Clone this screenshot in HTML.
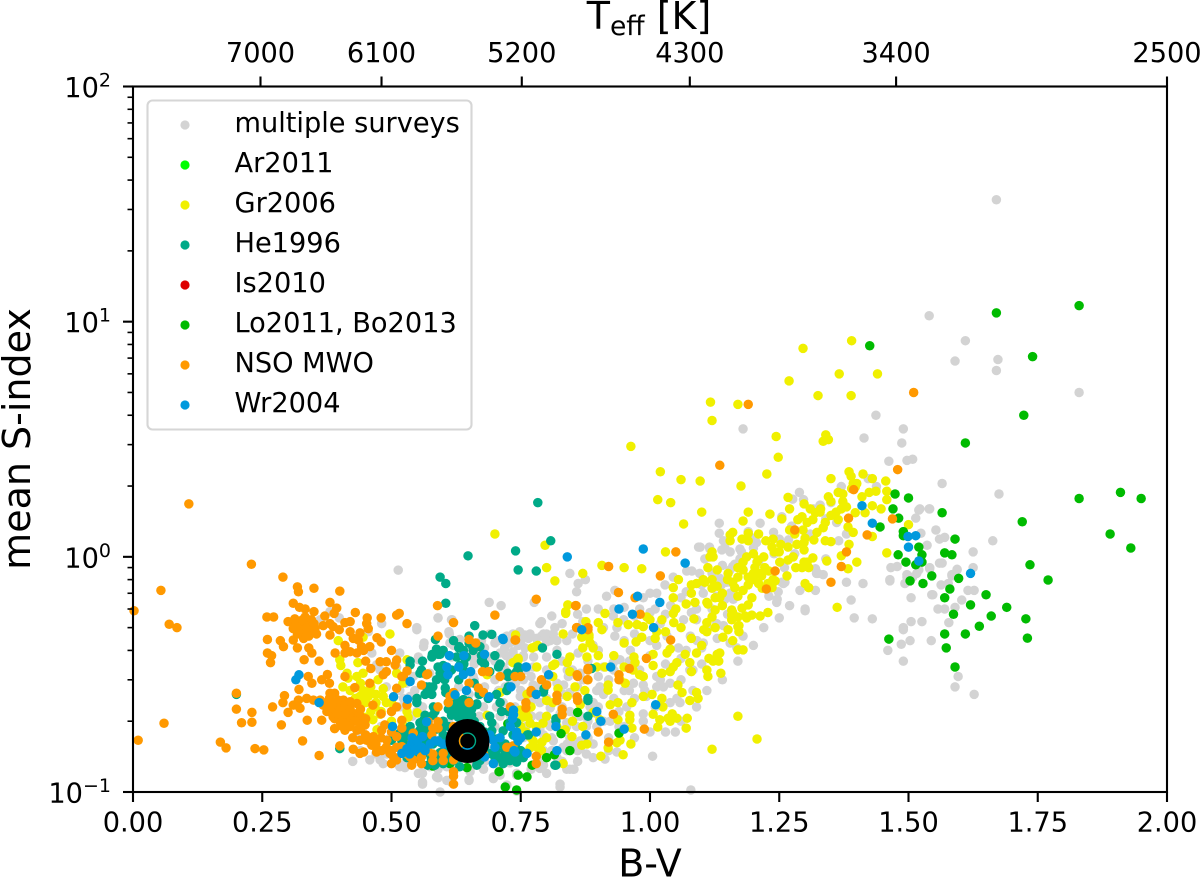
<!DOCTYPE html>
<html lang="en">
<head>
<meta charset="utf-8">
<title>Mean S-index versus B-V</title>
<style>
html,body{margin:0;padding:0;background:#fff;width:1200px;height:878px;overflow:hidden}
svg{display:block}
text{font-family:"DejaVu Sans","Liberation Sans",sans-serif;fill:#000}
.tick{font-size:27.2px}
.title{font-size:38px}
</style>
</head>
<body>
<svg id="chart" xmlns="http://www.w3.org/2000/svg" width="1200" height="878" viewBox="0 0 1200 878">
  <g id="series"></g>
  <g id="sun"></g>
  <g id="axes"></g>
  <g>
    <rect x="147.5" y="100.5" width="324" height="329" rx="5" fill="#fff" fill-opacity="0.8" stroke="#d6d6d6" stroke-width="2.1"/>
    <g><circle cx="185" cy="125" r="4.6" fill="#d3d3d3"/><text class="tick" x="234.5" y="132">multiple surveys</text></g>
    <g><circle cx="185" cy="165" r="4.6" fill="#00ff00"/><text class="tick" x="234.5" y="172">Ar2011</text></g>
    <g><circle cx="185" cy="205" r="4.6" fill="#f0f000"/><text class="tick" x="234.5" y="212">Gr2006</text></g>
    <g><circle cx="185" cy="245" r="4.6" fill="#00aa88"/><text class="tick" x="234.5" y="252">He1996</text></g>
    <g><circle cx="185" cy="285" r="4.6" fill="#dd0000"/><text class="tick" x="234.5" y="292">Is2010</text></g>
    <g><circle cx="185" cy="325" r="4.6" fill="#00bb00"/><text class="tick" x="234.5" y="332">Lo2011, Bo2013</text></g>
    <g><circle cx="185" cy="365" r="4.6" fill="#ff9900"/><text class="tick" x="234.5" y="372">NSO MWO</text></g>
    <g><circle cx="185" cy="405" r="4.6" fill="#0099dd"/><text class="tick" x="234.5" y="412">Wr2004</text></g>
  </g>
  <text class="title" x="650" y="876.5" text-anchor="middle">B-V</text>
  <text class="title" x="30" y="439" text-anchor="middle" transform="rotate(-90 30 439)">mean S-index</text>
  <text class="title" x="649" y="29" text-anchor="middle">T<tspan dy="6" font-size="26.6">eff</tspan><tspan dy="-6"> [K]</tspan></text>
</svg>
<script>
const xTickValues = [0, 0.25, 0.5, 0.75, 1, 1.25, 1.5, 1.75, 2];
const xTickLabels = ["0.00", "0.25", "0.50", "0.75", "1.00", "1.25", "1.50", "1.75", "2.00"];
const topTickValues = [0.2466, 0.4807, 0.752, 1.077, 1.476, 2];
const topTickLabels = ["7000", "6100", "5200", "4300", "3400", "2500"];
const yTickExponents = [-1, 0, 1, 2];
const yTickLabels = ["\u22121", "0", "1", "2"];
const sunPoint = [0.647, 0.1647];

const grayPoints = [
[1.67,33],[1.54,10.6],[1.61,8.3],[1.59,6.8],[1.673,6.9],[1.67,6.2],[1.83,5],[1.437,4],[1.18,3.5],[1.49,3.5],[1.414,3.2],[1.487,3.05],[1.462,2.55],[1.497,2.57],[1.508,2.6],[1.565,2.05],[1.675,1.85],[1.663,1.17],[1.625,1.05],[1.625,.9],[1.553,1.3],[1.54,1.6],[1.52,1.58],[1.514,1.46],[1.524,1.26],[1.56,1.19],[1.57,1.21],[1.536,1.12],[1.56,.94],[1.565,.94],[1.594,.88],[1.584,.84],[1.577,.77],[1.563,.76],[1.615,.72],[1.627,.72],[1.547,.69],[1.603,.655],[1.59,.61],[1.557,.6],[1.57,.6],[1.505,.67],[1.389,.655],[1.395,.55],[1.43,.545],[1.505,.53],[1.526,.53],[1.578,.525],[1.49,.5],[1.38,.78],[1.412,.77],[1.464,.79],[1.466,.9],[1.478,.91],[1.497,.84],[1.493,.77],[1.516,.85],[1.541,.9],
[1.464,.8],[1.545,.69],[1.49,.49],[1.486,.425],[1.503,.44],[1.544,.44],[1.46,.4],[1.49,.36],[1.596,.31],[1.59,.28],[1.627,.26],[1.522,1.6],[1.541,1.6],[1.497,.82],[1.508,.82],[1.52,.88],[1.541,.89],[1.584,.83],[1.594,.885],
[1.37,1.99],[1.438,1.99],[1.422,2.15],[1.289,1.88],[1.276,1.76],[1.297,1.75],[1.316,1.6],[1.329,1.66],[1.361,1.4],[1.38,1.25],[1.134,1.39],[1.134,1.26],[1.213,1.39],[1.255,1.48],[1.274,1.35],[1.239,1.27],[1.142,1.17],[1.145,1.09],[1.177,1.05],[1.2,1.09],[1.25,1.19],[1.268,1.18],[1.32,.89],[1.335,.84],[1.325,.85],[1.365,1.17],[1.34,.98],[1.16,.91],[1.135,.81],[1.138,.76],[1.155,.7],[1.148,.78],[1.161,.66],[1.145,.66],[1.246,.66],[1.255,.78],[1.261,.78],[1.3,.59],[1.103,.7],[1.106,.98],[1.097,1.1],[1.116,1.08],[1.129,.52],[1.142,.51],[1.3,.6],
[1.094,1.1],[1.115,1.1],[1.139,1.07],[1.164,.93],[1.155,.88],[1.174,.98],[1.155,.78],[1.142,.66],[1.155,.7],[1.129,.68],[1.096,.85],[1.071,.87],[1.081,.87],[1.045,.82],[1.029,.76],[1.013,.7],[1,.7],[.987,.67],[.916,.68],[.932,.72],[.929,.56],[.877,.6],[.858,.71],[.816,.5],[.794,.47],[.787,.52],[.768,.47],[.748,.48],[.735,.47],[.807,.44],[.839,.44],[.82,.4],[.861,.39],[.936,.5],[.949,.54],[.932,.46],[.962,.4],[1,.44],[1.013,.42],[1.033,.46],[1.065,.54],[1.078,.46],[1.091,.44],[1.103,.43],[1.155,.43],[1.18,.46],[1.168,.41],[1.055,.41],[1.013,.31],[1.083,.33],[1.077,.33],[1.013,.28],[1.026,.28],[1.039,.29],[1.083,.27],[1.052,.25],[1.039,.24],[1.058,.24],[.968,.29],[.987,.285],[.903,.28],[.942,.365],[.929,.355],[.897,.27],[.871,.3],[.842,.31],[.832,.26],[.987,.215],[1.049,.18],[.987,.2],[.955,.23],[.923,.2],[.89,.24],[.865,.21],[.845,.22],[.839,.19],[.858,.19],[.826,.215],[.807,.19],[.787,.21],[.794,.175],[.813,.165],[.832,.155],[.865,.165],[.877,.145],[.845,.125],[.853,.125],[.787,.126],[.784,.14],[.742,.12],[.774,.16],[.755,.17],[.826,.108],[.936,.148],[.913,.138],[1.005,.142],[1.079,.102],[.993,.255],[.78,.28],[.735,.39],[.755,.38],[.774,.34],[.722,.38],[.716,.34],[.865,.32],[1.206,1.15],[1.258,.77],[1.248,.71],[1.245,.64],[1.322,.85],[1.2,1.2],[1.174,1.08],[1.155,1.05],
[.689,.64],[.712,.62],[.59,.55],[.617,.54],[.611,.48],[.549,.5],[.563,.43],[.552,.375],[.516,.39],[.845,.85],[.861,.77],[.875,.8],[.79,.53],[.776,.64],[.749,.47],[.758,.465],[.765,.45],[.8,.47],[.813,.47],[.79,.46],[.82,.44],[.8,.435],[.69,.47],[.674,.44],[.723,.46],[.707,.44],[.729,.43],[.719,.41],[.735,.395],[.71,.39],[.758,.41],[.745,.42],[.755,.375],[.775,.375],[.8,.375],[.69,.375],[.665,.375],[.7,.43],[.652,.375],[.613,.43],[.626,.44],[.616,.375],[.574,.32],[.542,.31],[.529,.29],[.545,.27],[.523,.25],[.516,.27],[.658,.31],[.68,.28],[.707,.27],[.755,.3],[.774,.285],[.749,.255],[.771,.245],[.787,.24],[.807,.228],[.833,.285],[.845,.265],[.668,.26],[.678,.23],[.703,.23],[.716,.24],[.739,.23],[.749,.22],[.71,.21],[.771,.21],[.787,.21],[.8,.197],[.839,.197],[.858,.21],[.877,.19],[.897,.19],[.865,.24],[.884,.23],[.897,.215],[.787,.185],[.81,.17],[.845,.17],[.851,.16],[.81,.15],[.865,.153],[.89,.14],[.839,.15],[.794,.15],[.526,.127],[.552,.12],[.59,.115],[.56,.108],[.65,.112],[.697,.114],[.826,.105],[.839,.125],[.851,.125],[.794,.13],[.516,.13],[.529,.135],[.574,.128],[.59,.133],[.607,.128],[.626,.128],[.652,.122],[.678,.125],[.729,.133],[.742,.118],[.71,.118],
[.425,.135],[.478,.137],[.484,.132],[.516,.128],[.526,.129],[.51,.133],[.433,.172],[.445,.178],[.458,.137],[.481,.52],[.381,.585],[.399,.55],[.362,.54],[.455,.48],[.462,.39],[.471,.347],[.478,.33],[.49,.28],[.51,.34],[.549,.49],[.562,.415],[.552,.365],[.612,.47],[.632,.445],[.623,.44],[.59,.55],[.616,.54],[.536,.255],[.549,.22],[.516,.23],[.497,.17],[.491,.145],[.56,.11],[.587,.116],[.594,.1],[.616,.11],[.607,.112],[.65,.113],[.697,.116],[.723,.107],[.742,.101],[.513,.878],
[.66,.35],[.68,.41],[.63,.3],[.6,.33],[.75,.27],[.73,.3],[.8,.33],[.83,.36],[.85,.33],[.88,.36],[.9,.4],[.91,.34],[.96,.36],[.98,.33],[1,.38],[1.03,.35],[1.06,.3],[.92,.3],[.95,.27],[.97,.25],[1.01,.23],[.93,.25],[.9,.23],[.92,.17],[.95,.19],[.88,.17],[.76,.19],[.77,.17],[.72,.16],[.69,.16],[.66,.13],[.6,.15],[.56,.13],[.54,.14],[.85,.47],[.88,.47],[.91,.5],[.87,.53],[.95,.61],[.98,.6],[1.01,.6],[1.04,.62],[1.07,.71],[1.1,.76],[1.12,.85],[1.14,.92],[1.18,.88],[1.21,.95],[1.24,1.03],[1.19,1.28],[1.28,1.03],[1.31,1.25],[1.34,1.45],[1.35,1.7],[1.09,.6],[1.12,.6],[1.15,.57],[1.06,.67],[1.09,.54],[.95,.44],[.89,.42],[.97,.47],[.8,.25],[.83,.23],[1.1,.35],[1.06,.37],[1.02,.52],[.84,.16],[.86,.135],[.82,.14],[.72,.28],[.76,.33],
[.62,.42],[.64,.4],[.67,.41],[.7,.36],[.72,.33],[.68,.33],[.66,.3],[.63,.28],[.65,.26],[.7,.3],[.74,.29],[.76,.26],[.79,.27],[.82,.29],[.84,.33],[.86,.28],[.88,.25],[.9,.31],[.93,.33],[.91,.26],[.94,.22],[.96,.27],[.99,.27],[1.02,.3],[1.04,.33],[1.07,.4],[1.1,.41],[1.13,.45],[1.11,.5],[1.08,.58],[1.03,.57],[1,.58],[.97,.56],[.93,.6],[.9,.6],[.86,.57],[.83,.52],[.81,.56],[.78,.45],[.75,.43],[.73,.36],[.77,.31],[.8,.29],[.76,.23],[.73,.21],[.7,.19],[.67,.21],[.64,.19],[.61,.2],[.58,.21],[.56,.23],[.54,.21],[.52,.2],[.5,.22],[.48,.19],[.46,.16],[.44,.15],[.47,.145],[.5,.15],[.53,.14],[.56,.12],[.59,.125],[.62,.13],[.65,.128],[.68,.135],[.71,.13],[.74,.135],[.77,.125],[.8,.12],[.83,.135],[.86,.15],[.89,.16],[.92,.15],[.88,.2],[.91,.2],[.94,.19],[.97,.17],[1,.18],[1.03,.18],[1.06,.2],[1.09,.23],[1.11,.27],[1.14,.3],[1.17,.36],[1.2,.42],[1.22,.5],[1.25,.55],[1.27,.62],[1.23,.68],[1.26,.9],[1.29,.72],[1.32,.72]
];

const yellowPoints = [
[1.39,8.3],[1.296,7.7],[1.269,5.6],[1.366,6],[1.44,6],[1.325,4.85],[1.389,4.85],[1.17,4.45],[1.117,4.55],[1.12,3.8],[1.244,3.25],[1.34,3.3],[1.345,3.15],[1.335,3.1],[1.248,2.65],[1.226,2.25],[1.176,2],[1.097,2.1],[1.1,1.55],[.963,2.95],[1.02,2.3],[.70,1.25],[1.015,1.75],[1.06,2.13],[1.04,1.7],[1.065,1.38],
[1.35,2.15],[1.385,2.3],[1.389,2.2],[1.393,2.05],[1.397,1.98],[1.412,2.25],[1.43,2.15],[1.456,2.1],[1.4,2.05],[1.39,1.95],[1.364,1.88],[1.373,1.85],[1.345,1.8],[1.35,1.72],[1.373,1.72],[1.38,1.63],[1.37,1.6],[1.41,1.8],[1.424,1.88],[1.437,1.9],[1.458,1.9],[1.458,1.75],[1.43,1.65],[1.447,1.6],[1.416,1.54],[1.397,1.54],[1.364,1.44],[1.383,1.34],[1.393,1.27],[1.43,1.22],[1.5,1.37],[1.458,1.04],[1.385,1.13],[1.37,1.01],[1.383,.89],[1.4,.95],[1.342,.96],[1.362,.61],
[1.267,1.79],[1.298,1.68],[1.27,1.6],[1.232,1.52],[1.255,1.45],[1.19,1.55],[1.18,1.42],[1.329,1.55],[1.32,1.54],[1.315,1.44],[1.294,1.48],[1.286,1.44],[1.304,1.4],[1.296,1.3],[1.323,1.27],[1.339,1.4],[1.335,1.33],[1.317,1.18],[1.339,1.17],[1.35,1.16],[1.16,1.27],[1.155,1.24],[1.155,1.17],[1.19,1.26],[1.21,1.25],[1.178,1.19],[1.19,1.17],[1.224,1.17],[1.238,1.19],[1.253,1.13],[1.267,1.1],[1.284,1.13],[1.298,1.15],[1.298,1.07],[1.236,1.1],[1.24,1.05],[1.315,.99],[1.277,1],[1.267,.97],[1.251,.95],[1.298,.95],[1.282,.9],[1.294,.9],[1.307,.9],[1.304,.95],[1.265,.83],[1.3,.77],[1.307,.74],
[1.187,1],[1.209,.97],[1.18,.88],[1.203,.9],[1.216,.83],[1.19,.82],[1.2,.8],[1.21,.77],[1.228,.77],[1.242,.79],[1.236,.74],[1.217,.735],[1.19,.76],[1.12,1.05],[1.116,1],[1.122,1],[1.112,.9],[1.13,.88],[1.151,.85],[1.17,.82],[1.16,.78],[1.106,.78],[1.12,.8],[1.12,.735],[1.164,.74],[1.197,.67],[1.19,.625],[1.178,.605],[1.126,.67],[1.135,.67],[1.112,.63],[1.126,.594],[1.12,.555],[1.158,.594],[1.158,.565],[1.17,.555],[1.184,.56],[1.197,.565],[1.213,.56],[1.228,.58],[1.172,.51],[1.11,.525],[1.126,.5],[1.151,.49],
[1.207,.95],[1.222,.9],[1.2,.85],[1.238,.8],[1.16,.58],[1.158,.54],[1.187,.55],[1.104,.49],[1.11,.48],[1.141,.455],[1.17,.505],[1.172,.48],[1.17,.402],[1.18,.402],[1.07,.63],[1.087,.64],[1.045,.67],[1.045,.74],[1.055,.8],[1.08,.76],[1.09,.77],[1.103,.8],[1.11,.64],[1.045,.575],[1.085,.545],[1.023,.54],[1.046,.525],[1.013,.48],[1,.54],[.987,.505],[.975,.515],[.958,.515],[.994,.555],[.984,.455],[.973,.435],[.938,.525],[.913,.575],[.9,.525],[.907,.49],[.876,.53],[.832,.47],[.841,.625],[.837,.575],[.868,.455],[.882,.455],[.884,.43],[.89,.41],[.87,.41],[.95,.43],[1.03,1.05],[.907,.92],[.95,.9],[.984,.89],[.87,.85],[.816,.79],[.8,.9],[.797,1.12],
[1.039,.405],[1.068,.385],[1.09,.39],[1.033,.39],[1.006,.385],[.969,.375],[.971,.355],[1.114,.37],[1.13,.385],[1.135,.39],[1.122,.36],[1.133,.36],[1.077,.355],[1.006,.345],[1.052,.355],[1.045,.34],[1.039,.325],[1.023,.32],[1.11,.33],[1.112,.31],[1.137,.32],[1.08,.325],[.987,.31],[.98,.315],[.967,.33],[.95,.34],[.942,.3],[.952,.29],[.919,.285],[.919,.271],[.897,.34],[.913,.34],[.855,.28],[.874,.27],[.84,.355],[.845,.375],[.845,.325],[.812,.345],[.778,.415],[.783,.42],[.743,.365],[.735,.355],
[1.054,.285],[1.062,.265],[1.09,.265],[1.093,.25],[1.077,.245],[.987,.255],[1.004,.26],[1.023,.25],[1.025,.23],[.965,.24],[.923,.235],[.938,.24],[.865,.235],[.84,.255],[.8,.245],[.812,.24],[.822,.275],[1.006,.214],[1.019,.203],[1.035,.206],[1.043,.215],[1.052,.206],[1.072,.206],[1.07,.187],[1.015,.189],[1.039,.2],[.961,.212],[.961,.203],[.938,.203],[.89,.218],[.903,.203],[.965,.187],[.963,.16],[.948,.144],[.942,.166],[.936,.162],[.919,.154],[.905,.142],[.868,.158],[.878,.16],[.849,.172],[.836,.184],[.832,.132],[.793,.196],[.768,.196],[.764,.208],[.749,.223],[.774,.165],[.791,.163],[.768,.154],[.783,.154],[.758,.147],[1.17,.21],[1.207,.168],[1.12,.152],
[.837,.585],[.882,.465],[.878,.375],[.772,.41],[.745,.37],[.781,.34],[.816,.35],[.812,.31],[.762,.26],[.497,.47],[.397,.44],[.4,.365],[.402,.345],[.414,.32],[.406,.28],[.416,.305],[.445,.32],[.435,.355],[.484,.275],[.474,.3],[.458,.27],[.445,.27],[.439,.255],[.455,.255],[.484,.255],[.468,.23],[.478,.214],[.464,.203],[.449,.208],[.472,.184],[.522,.29],[.51,.32],[.53,.365],[.55,.217],[.532,.208],[.522,.193],[.433,.31],[.445,.455],[.74,.465],[.745,.365],[.685,.315],[.685,.212],[.71,.265],[.754,.208],[.72,.158],[.74,.2],[.77,.23],[.76,.18],
[.43,.25],[.45,.24],[.47,.24],[.46,.28],[.47,.26],[.49,.24],[.5,.24],[.48,.22],[.5,.2],[.53,.22],[.42,.27],[.44,.29],[.46,.22],[.76,.22],[.78,.19],[.75,.19],[.77,.17],[.8,.17],[.82,.19],[.79,.15],[.8,.21],[.85,.2],[.87,.19],[1.35,1.5],[1.33,1.6],[1.36,1.55],[1.31,1.6],[1.28,1.25],[1.3,1.2],[1.27,1.3],[1.25,1.05],[1.22,1],[1.2,1.03],[1.18,.95],[1.17,.9],[1.15,.8],[1.21,.85],[1.23,.87],[1.13,.75],[1.14,.7],[1.08,.7],[1.05,.6],[1.17,.68],[1.18,.72],[1.14,.62],[1.01,.45],[1.03,.48],[.93,.38],[.9,.38],[1.08,.45],[1.06,.5],[1.1,.42],[1.16,.44]
];

const greenPoints = [
[1.83,11.7],[1.67,10.9],[1.74,7.1],[1.425,7.9],[1.723,4],[1.61,3.05],[1.83,1.77],[1.91,1.88],[1.95,1.77],[1.89,1.25],[1.93,1.09],[1.72,1.41],[1.735,.925],[1.77,.797],[1.65,.69],[1.69,.61],[1.66,.56],[1.637,.507],[1.727,.545],[1.73,.451],[1.61,.47],[1.57,.47],[1.573,.41],[1.59,.34],[1.462,.447],[1.587,.57],[1.62,.625],[1.57,.67],[1.58,.73],[1.597,.81],[1.545,.83],[1.528,.77],[1.503,.79],[1.584,1.02],[1.57,1.04],[1.59,1.19],[1.565,1.54],[1.5,1.78],[1.474,1.85],[1.47,1.6],[1.481,1.46],[1.49,1.28],[1.49,1.23],[1.52,1.1],[1.526,1.02],[1.495,.95],[1.48,1.02],[1.514,.925],[1.526,.95],[1.445,1.34],
[.58,.129],[.613,.132],[.646,.127],[.708,.122],[.745,.118],[.762,.116],[.72,.105],[.742,.102],[.772,.13],[.8,.14],[.815,.144],[.845,.15],[.828,.177],[.86,.218],[.725,.195],[.747,.17],[.94,.178]
];

const tealPoints = [
[.783,1.7],[.74,1.06],[.648,1.01],[.745,.88],[.78,.87],[.808,1.17],[.594,.82],[.605,.77],[.605,.635],[.661,.51],[.585,.445],[.65,.46],[.677,.465],[.694,.468],[.671,.415],[.657,.415],[.674,.38],[.676,.37],[.645,.375],[.639,.4],[.631,.415],[.626,.375],[.587,.405],[.579,.385],[.594,.385],[.536,.36],[.558,.33],[.562,.32],[.573,.28],[.567,.28],[.58,.28],[.59,.34],[.6,.345],[.594,.32],[.587,.3],[.603,.3],[.605,.265],[.632,.345],[.639,.33],[.616,.33],[.71,.35],[.69,.325],[.725,.32],[.745,.34],[.726,.28],[.703,.26],[.687,.25],[.82,.385],[.792,.41],[.795,.275],[.88,.25],[.88,.21],[.818,.205],[.765,.175],[.816,.13],[.549,.25],[.581,.23],[.665,.237],[.713,.22],[.694,.197],
[.62,.247],[.63,.243],[.639,.247],[.649,.243],[.62,.23],[.632,.23],[.642,.23],[.651,.23],[.626,.22],[.635,.22],[.645,.22],[.655,.212],[.616,.212],[.629,.208],[.638,.208],[.584,.225],[.58,.212],[.565,.212],[.555,.197],[.536,.19],[.549,.178],[.529,.175],[.516,.178],[.568,.185],[.587,.185],[.597,.185],[.529,.16],[.545,.155],[.561,.155],[.574,.163],[.594,.163],[.613,.168],[.594,.147],[.606,.145],[.577,.139],[.561,.145],[.6,.132],[.584,.13],[.62,.136],[.632,.128],[.632,.14],[.671,.19],[.678,.175],[.694,.182],[.703,.15],[.69,.146],[.71,.139],[.716,.132],[.729,.136],[.742,.134],[.723,.143],[.755,.14],[.703,.168],[.716,.182],[.735,.175],[.729,.197],[.742,.197],[.671,.136],[.665,.13],[.523,.147],[.536,.145],[.552,.139],[.726,.22],
[.745,.325],[.726,.31],[.794,.266],[.88,.245],[.818,.2],[.763,.175],[.818,.13],[.716,.141],[.723,.137],[.736,.137],[.742,.141],[.2,.26],[.4,.153],[.578,.375],[.59,.385],[.63,.41],[.642,.37],[.658,.4],[.674,.36],[.707,.34],[.725,.31],[.742,.325],[.723,.27],[.665,.235],[.604,.277],[.565,.26],[.578,.26],[.549,.24],[.584,.22],[.536,.347],[.555,.32],[.52,.18],[.533,.178],[.562,.202],[.555,.183],[.5,.166],[.887,.335],[.6,.2],[.61,.19],[.66,.2],[.6,.17],[.57,.175],[.68,.155],[.65,.14],[.72,.16],[.74,.155],
[.61,.24],[.625,.235],[.64,.24],[.655,.225],[.62,.215],[.64,.215],[.61,.225],[.65,.2],[.66,.19],[.67,.17],[.64,.195],[.62,.18],[.6,.175],[.58,.16],[.56,.165],[.54,.165],[.52,.165],[.53,.14],[.55,.145],[.57,.13],[.59,.14],[.61,.14],[.63,.15],[.61,.155],[.69,.17],[.7,.14],[.72,.15],[.73,.145],[.75,.15],[.71,.16],[.68,.18],[.69,.21],[.71,.24],[.67,.26],[.66,.29],[.63,.3],[.61,.32],[.64,.35],[.68,.35],[.7,.38],[.65,.43],[.62,.44],[.6,.4],[.56,.36]
];

const orangePoints = [
[.108,1.68],[.002,.59],[.01,.166],[.054,.72],[.07,.517],[.085,.5],[.06,.196],[.229,.93],[.29,.82],[.318,.745],[.32,.71],[.35,.735],[.4,.715],[.31,.635],[.322,.61],[.333,.6],[.35,.585],[.381,.64],[.394,.605],[.389,.575],[.43,.58],[.453,.55],[.452,.52],[.48,.55],[.51,.565],[.515,.575],[.53,.52],[.259,.555],[.272,.555],[.3,.53],[.313,.545],[.333,.555],[.317,.505],[.33,.52],[.342,.51],[.31,.495],[.323,.49],[.336,.475],[.349,.475],[.33,.465],[.352,.495],[.368,.51],[.371,.56],[.381,.52],[.387,.505],[.41,.525],[.42,.53],[.381,.465],[.399,.49],[.42,.48],[.439,.475],[.455,.495],[.426,.45],[.436,.443],[.442,.415],[.458,.415],[.41,.42],[.42,.395],[.41,.39],[.433,.39],[.446,.4],[.472,.453],[.48,.435],[.5,.4],[.391,.39],[.26,.445],[.285,.44],[.291,.415],[.31,.443],[.318,.41],[.34,.41],[.346,.39],[.26,.39],[.268,.38],[.266,.355],[.331,.365],[.36,.36],[.45,.36],[.478,.358],[.49,.358],[.51,.364],[.507,.347],[.46,.335],[.49,.325],[.484,.315],[.52,.31],[.53,.327],[.41,.31],[.458,.29],[.429,.278],[.339,.31],[.376,.316],[.365,.3],[.346,.29],[.38,.29],[.321,.273],[.293,.257],[.29,.24],[.2,.263],[.27,.23],[.31,.234],[.32,.246],[.323,.227],[.336,.25],[.349,.246],[.362,.246],[.368,.234],[.381,.263],[.39,.263],[.397,.246],[.407,.246],[.42,.242],[.433,.238],[.413,.223],[.394,.223],[.407,.216],[.384,.223],[.375,.22],[.365,.202],[.387,.209],[.413,.209],[.42,.199],[.436,.199],[.407,.199],[.39,.186],[.41,.183],[.433,.183],[.449,.193],[.464,.234],[.48,.215],[.5,.22],[.51,.23],[.53,.234],[.52,.202],[.51,.276],[.504,.254],[.2,.225],[.23,.218],[.21,.197],[.23,.198],[.3,.218],[.287,.193],[.337,.202],[.169,.163],[.18,.154],[.236,.153],[.253,.151],[.328,.165],[.36,.143],[.4,.157],[.426,.152],[.439,.146],[.446,.148],[.439,.166],[.452,.166],[.465,.172],[.471,.148],[.481,.15],[.462,.158],[.491,.166],[.487,.193],[.481,.183],[.497,.146],[.504,.141],[.5,.132],[.51,.137],[.51,.172],[.52,.156],[.542,.178],[.536,.141],[.542,.137],[.558,.141],[.58,.145],[.6,.146],[.59,.199],[.571,.199],[.578,.175],[.62,.117],[.62,.137],
[.589,.62],[.62,.525],[.59,.46],[.65,.445],[.663,.43],[.7,.565],[.74,.443],[.558,.285],[.57,.318],[.78,.66],[.739,.443],[.857,.62],[.88,.5],[.858,.5],[.676,.325],[.687,.325],[.71,.31],[.739,.31],[.75,.31],[.568,.315],[.523,.31],[.65,.29],[.668,.277],[.678,.265],[.613,.255],[.62,.265],[.61,.24],[.65,.24],[.59,.23],[.73,.23],[.76,.228],[.77,.265],[.79,.3],[.8,.285],[.82,.245],[.86,.31],[.88,.33],[.88,.3],[.86,.245],[.83,.213],[.62,.19],[.59,.187],[.58,.187],[.52,.187],[.54,.164],[.57,.15],[.58,.136],[.6,.136],[.558,.132],[.539,.13],[.62,.108],[.62,.122],[.678,.145],[.723,.155],[.78,.132],[.735,.157],
[1.05,1.05],[.92,.91],[1.02,.83],[.856,.62],[.939,.705],[.971,.67],[.981,.57],[.859,.5],[.88,.49],[1.04,.443],[.993,.37],[.88,.335],[.96,.335],[.94,.315],[.94,.3],[.859,.315],[.879,.3],[.77,.27],[.82,.258],[.859,.254],[.76,.24],[.83,.225],[.929,.214],[.9,.18],[.989,.185],[.92,.163],[.78,.142],[1.38,1.05],[1.37,.91],[1.242,.87],[1.35,.78],[1.225,.73],[1.19,4.45],[1.51,5],[1.135,2.45],[1.479,2.35],[1.394,1.93],[1.384,1.46],[1.469,1.45],[1.42,1.24],[1.28,1.3],
[.32,.53],[.325,.5],[.335,.53],[.34,.5],[.345,.54],[.33,.49],[.32,.48],[.34,.46],[.315,.52],[.328,.54],[.35,.52],[.33,.45],[.318,.47],[.355,.47],
[.38,.25],[.39,.24],[.4,.23],[.41,.235],[.42,.225],[.43,.215],[.44,.21],[.4,.2],[.39,.205],[.405,.19],[.42,.21],[.43,.2],[.44,.225],[.41,.215],[.395,.215],[.375,.24],[.385,.235],[.42,.19],[.45,.205],[.44,.185],[.425,.17],[.45,.175],[.47,.16],[.49,.155],[.5,.15],[.51,.155],[.53,.145],[.5,.18],[.48,.17]
];

const bluePoints = [
[.321,.315],[.315,.3],[.36,.24],[.504,.254],[.536,.295],[.531,.248],[.502,.19],[.52,.146],[.539,.161],[.53,.153],[.549,.153],[.56,.172],[.568,.199],[.584,.165],[.59,.165],[.558,.155],[.612,.38],[.607,.34],[.609,.315],[.623,.259],[.639,.315],[.653,.325],[.68,.385],[.645,.27],[.689,.254],[.715,.45],[.731,.28],[.736,.223],[.736,.213],[.734,.205],[.742,.18],[.741,.172],[.697,.132],[.68,.141],[.761,.34],[.739,.148],[.762,.146],[.697,.166],[.665,.15],
[.987,1.08],[.84,1],[1.068,.94],[.976,.68],[1.019,.64],[.94,.6],[.966,.57],[1.007,.5],[.868,.49],[.924,.34],[.76,.34],[.804,.315],[.78,.26],[1.011,.235],[.897,.22],[.905,.2],[.95,.185],[.818,.19],[.78,.18],[.876,.175],[.82,.15],[.737,.15],[.762,.146],[.716,.445],
[1.41,1.65],[1.43,1.39],[1.499,1.22],[1.514,1.23],[1.5,1.1],[1.52,.96],[1.62,.85],
[.54,.17],[.55,.165],[.545,.15],[.565,.15],[.575,.16],[.535,.145],[.69,.175],[.71,.17],[.73,.19],[.745,.165],[.7,.155],[.62,.17],[.6,.16],[.75,.17],[.64,.38],[.63,.34]
];

const SVG_NS = "http://www.w3.org/2000/svg";
const plotLeft = 133, plotRight = 1167, plotTop = 86.5, plotBottom = 792;

function xScale(v) { return plotLeft + (v - 0) / 2 * (plotRight - plotLeft); }
function yScale(v) { return plotBottom - (Math.log10(v) + 1) / 3 * (plotBottom - plotTop); }

function make(tag, attrs, parent) {
  const el = document.createElementNS(SVG_NS, tag);
  for (const k in attrs) el.setAttribute(k, attrs[k]);
  parent.appendChild(el);
  return el;
}

const seriesRoot = document.getElementById("series");
const axesRoot = document.getElementById("axes");
const sunRoot = document.getElementById("sun");

function drawSeries(points, color, name) {
  const g = make("g", {}, seriesRoot);
  
  
  for (const p of points) {
    const c = make("circle", { cx: xScale(p[0]).toFixed(2), cy: yScale(p[1]).toFixed(2), r: 4.75, fill: color }, g);
    
    
  }
}

drawSeries(grayPoints, "#d3d3d3", "series-multiple-surveys");
drawSeries(yellowPoints, "#f0f000", "series-gr2006");
drawSeries(greenPoints, "#00bb00", "series-lo2011-bo2013");
drawSeries(tealPoints, "#00aa88", "series-he1996");
drawSeries(orangePoints, "#ff9900", "series-nso-mwo");
drawSeries(bluePoints, "#0099dd", "series-wr2004");

/* sun symbol */
const sx = xScale(sunPoint[0]), sy = yScale(sunPoint[1]);
const sunDisc = make("circle", { cx: sx, cy: sy, r: 22, fill: "#000" }, sunRoot);


const sunRing = make("circle", { cx: sx, cy: sy, r: 8, fill: "none", stroke: "#00aa88", "stroke-width": 1.4 }, sunRoot);


const sunArcA = make("circle", { cx: sx, cy: sy, r: 8, fill: "none", stroke: "#ff9900", "stroke-width": 1.4, "stroke-dasharray": "15 35.3", transform: "rotate(130 " + sx + " " + sy + ")" }, sunRoot);


const sunArcB = make("circle", { cx: sx, cy: sy, r: 8, fill: "none", stroke: "#0099dd", "stroke-width": 1.4, "stroke-dasharray": "10 40.3", transform: "rotate(55 " + sx + " " + sy + ")" }, sunRoot);



/* frame */
const frame = make("rect", { x: plotLeft, y: plotTop, width: plotRight - plotLeft, height: plotBottom - plotTop, fill: "none", stroke: "#000", "stroke-width": 2.1 }, axesRoot);



/* bottom axis */
xTickValues.forEach(function (v, i) {
  const x = xScale(v);
  const t = make("line", { x1: x, x2: x, y1: plotBottom, y2: plotBottom + 10, stroke: "#000", "stroke-width": 2.1 }, axesRoot);
  
  
  const l = make("text", { x: x, y: 831.5, "text-anchor": "middle", class: "tick" }, axesRoot);
  l.textContent = xTickLabels[i];
  
  
});

/* top axis */
topTickValues.forEach(function (v, i) {
  const x = xScale(v);
  const t = make("line", { x1: x, x2: x, y1: plotTop, y2: plotTop - 10, stroke: "#000", "stroke-width": 2.1 }, axesRoot);
  
  
  const l = make("text", { x: x, y: 62, "text-anchor": "middle", class: "tick" }, axesRoot);
  l.textContent = topTickLabels[i];
  
  
});

/* left axis */
yTickExponents.forEach(function (e, i) {
  const y = yScale(Math.pow(10, e));
  const t = make("line", { x1: plotLeft, x2: plotLeft - 10, y1: y, y2: y, stroke: "#000", "stroke-width": 2.1 }, axesRoot);
  
  
  const l = make("text", { x: 111, y: y + 10.5, "text-anchor": "end", class: "tick" }, axesRoot);
  
  
  l.appendChild(document.createTextNode("10"));
  const sup = make("tspan", { dy: -10.5, "font-size": 19 }, l);
  sup.textContent = yTickLabels[i];
  if (e < 2) {
    for (let m = 2; m <= 9; m++) {
      const my = yScale(m * Math.pow(10, e));
      const mt = make("line", { x1: plotLeft, x2: plotLeft - 5.5, y1: my, y2: my, stroke: "#000", "stroke-width": 1.6 }, axesRoot);
      
      
    }
  }
});
</script>
</body>
</html>
